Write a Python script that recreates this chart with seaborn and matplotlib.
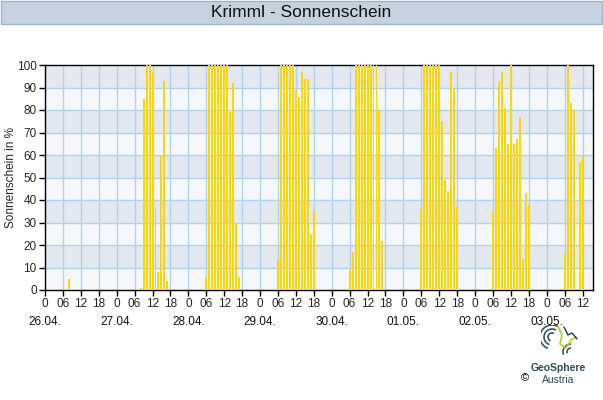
import numpy as np
import pandas as pd
import matplotlib
matplotlib.use("Agg")
import matplotlib.pyplot as plt
from matplotlib.patches import Rectangle, Arc
from matplotlib.transforms import blended_transform_factory
import seaborn as sns

# ---- data (hourly sunshine in %, hours counted from 26.04. 00:00) ----
dates = ["26.04.", "27.04.", "28.04.", "29.04.", "30.04.", "01.05.", "02.05.", "03.05."]
day_first_hour = [8, 8, 6, 6, 6, 6, 6, 6]
vals_2604 = [5]
vals_2704 = [1, 85, 100, 100, 97, 36, 8, 60, 93, 4]
vals_2804 = [6, 100, 100, 100, 100, 100, 100, 100, 79, 92, 30, 6]
vals_2904 = [14, 100, 100, 100, 100, 100, 89, 86, 97, 94, 94, 25, 35]
vals_3004 = [9, 17, 100, 100, 100, 100, 100, 100, 100, 100, 80, 22]
vals_0105 = [36, 100, 100, 100, 100, 100, 100, 75, 49, 44, 97, 90, 37]
vals_0205 = [35, 63, 93, 97, 81, 65, 100, 65, 67, 77, 14, 43, 38]
vals_0305 = [16, 100, 83, 80, 0, 57, 60]
tick_hours = ["0", "06", "12", "18"]

day_vals = [vals_2604, vals_2704, vals_2804, vals_2904, vals_3004,
            vals_0105, vals_0205, vals_0305]
rows = []
for d, (start, vals) in enumerate(zip(day_first_hour, day_vals)):
    for i, v in enumerate(vals):
        rows.append({"hour": d * 24 + start + i, "sun": v})
df = pd.DataFrame(rows)

# ---- figure ----
sns.set_theme(style="white")
plt.rcParams["font.family"] = ["Liberation Sans", "DejaVu Sans"]

fig = plt.figure(figsize=(6.03, 4.00), dpi=100)
ax = fig.add_axes([45 / 603, 1 - 290 / 400, 548 / 603, 225 / 400])
ax.set_facecolor("#f5f7fa")
for lo in range(10, 100, 20):
    ax.axhspan(lo, lo + 10, color="#e4e9f1", zorder=0, lw=0)

sns.barplot(data=df, x="hour", y="sun", native_scale=True, width=0.66,
            color="#ffd700", saturation=1, linewidth=0, ax=ax, zorder=3)

ax.set_xlim(0, 183.5)
ax.set_ylim(0, 100)

# grid
for xv in range(0, 184, 6):
    ax.axvline(xv, color="#aed3f0", lw=1.0, zorder=1)
for yv in range(10, 100, 10):
    ax.axhline(yv, color="#aed3f0", lw=1.0, zorder=1)

xt = list(range(0, 181, 6))
ax.set_xticks(xt)
ax.set_xticklabels([tick_hours[(t % 24) // 6] for t in xt], fontsize=8.5)
ax.set_yticks(range(0, 101, 10))
ax.set_yticklabels([str(v) for v in range(0, 101, 10)], fontsize=8.5)
ax.tick_params(axis="both", which="major", direction="out", length=4,
               width=1, color="black", pad=2, bottom=True, left=True)
ax.set_xlabel("")
ax.set_ylabel("Sonnenschein in %", fontsize=8.5)
ax.yaxis.set_label_coords(-28 / 548, 0.5)
for s in ax.spines.values():
    s.set_visible(True)
    s.set_color("black")
    s.set_linewidth(1)

# date labels under midnight ticks
trans = blended_transform_factory(ax.transData, fig.transFigure)
for d, lab in enumerate(dates):
    ax.text(d * 24, 1 - 322 / 400, lab, transform=trans, ha="center",
            va="center", fontsize=8.5, color="#111111")

# title bar
fig.patches.append(Rectangle((1 / 603, 1 - 24 / 400), 601 / 603, 23 / 400,
                             transform=fig.transFigure, facecolor="#c5d3e1",
                             edgecolor="#9fb5cb", lw=1))
fig.text(0.5, 1 - 12.5 / 400, "Krimml - Sonnenschein", ha="center", va="center",
         fontsize=12.5, color="#111111")

# logo
lax = fig.add_axes([541 / 603, 1 - 357 / 400, 38 / 603, 32 / 400])
lax.set_xlim(0, 38)
lax.set_ylim(0, 32)
lax.axis("off")
for r in (4, 8, 12):
    lax.add_patch(Arc((11, 20), 2 * r, 2 * r, theta1=60, theta2=250,
                      color="#2e4a55", lw=1.1))
for r in (4, 8):
    lax.add_patch(Arc((30, 5), 2 * r, 2 * r, theta1=90, theta2=200,
                      color="#2e4a55", lw=1.1))
lax.plot([17, 21, 19, 25, 30, 35], [31, 22, 13, 9, 17, 20], color="#b5cc2e", lw=1.2)
lax.plot([23, 27, 31, 36], [30, 22, 24, 18], color="#2e4a55", lw=1.1)
fig.text(558 / 603, 1 - 368 / 400, "GeoSphere", ha="center", va="center",
         fontsize=7.5, fontweight="bold", color="#2e4a55")
fig.text(558 / 603, 1 - 380 / 400, "Austria", ha="center", va="center",
         fontsize=7.5, color="#2e4a55")
fig.text(525 / 603, 1 - 378 / 400, "©", ha="center", va="center",
         fontsize=8, color="black")

fig.savefig("out.png", dpi=100)
